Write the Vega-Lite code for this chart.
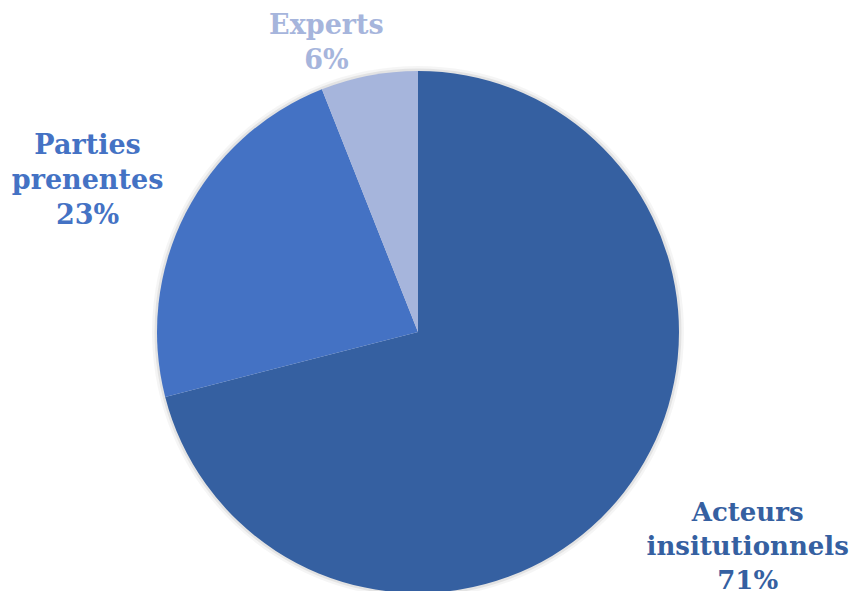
{
  "$schema": "https://vega.github.io/schema/vega-lite/v6.json",
  "autosize": "none",
  "width": 836,
  "height": 518,
  "padding": {"top": 73, "bottom": 0, "left": 0, "right": 23},
  "background": "white",
  "config": {"view": {"stroke": null}},
  "data": {
    "values": [
      {"category": "Acteurs institutionnels", "value": 71, "label": "Acteurs\ninsitutionnels\n71%"},
      {"category": "Parties prenentes", "value": 23, "label": "Parties\nprenentes\n23%"},
      {"category": "Experts", "value": 6, "label": "Experts\n6%"}
    ]
  },
  "encoding": {
    "theta": {"field": "value", "type": "quantitative", "stack": true},
    "order": {"field": "value", "type": "quantitative", "sort": "descending"},
    "color": {
      "field": "category",
      "type": "nominal",
      "legend": null,
      "scale": {
        "domain": ["Acteurs institutionnels", "Parties prenentes", "Experts"],
        "range": ["#3560A1", "#4472C4", "#A6B5DC"]
      }
    }
  },
  "layer": [
    {"mark": {"type": "arc", "radius": 266, "color": "#000000", "opacity": 0.04}, "encoding": {"color": {"value": "#000000"}}},
    {"mark": {"type": "arc", "radius": 263.5, "color": "#000000", "opacity": 0.07}, "encoding": {"color": {"value": "#000000"}}},
    {"mark": {"type": "arc", "radius": 261, "stroke": null}},
    {
      "mark": {"type": "text", "radius": 397, "dx": 16, "dy": -62, "font": "DejaVu Serif", "fontWeight": "bold", "fontSize": 26, "lineHeight": 34, "lineBreak": "\n", "align": "center", "baseline": "middle"},
      "encoding": {"text": {"condition": {"test": "datum.category === 'Acteurs institutionnels'", "field": "label"}, "value": ""}}
    },
    {
      "mark": {"type": "text", "radius": 363, "dx": -7, "dy": -21, "font": "DejaVu Serif", "fontWeight": "bold", "fontSize": 27, "lineHeight": 35, "lineBreak": "\n", "align": "center", "baseline": "middle"},
      "encoding": {"text": {"condition": {"test": "datum.category === 'Parties prenentes'", "field": "label"}, "value": ""}}
    },
    {
      "mark": {"type": "text", "radius": 302, "dx": -35, "dy": -9, "font": "DejaVu Serif", "fontWeight": "bold", "fontSize": 27, "lineHeight": 35, "lineBreak": "\n", "align": "center", "baseline": "middle"},
      "encoding": {"text": {"condition": {"test": "datum.category === 'Experts'", "field": "label"}, "value": ""}}
    }
  ]
}
